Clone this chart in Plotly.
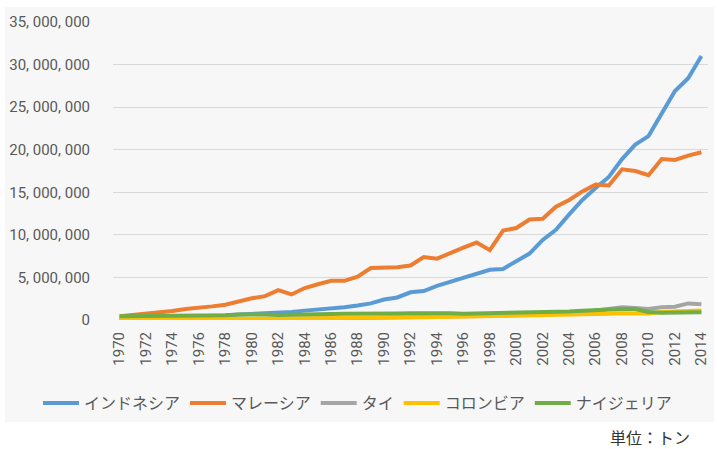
import plotly.graph_objects as go

years = list(range(1970, 2015))

indonesia = [0.22, 0.25, 0.27, 0.29, 0.35, 0.40, 0.43, 0.50, 0.53, 0.64,
             0.70, 0.75, 0.85, 0.95, 1.10, 1.20, 1.35, 1.50, 1.70, 1.95,
             2.40, 2.65, 3.25, 3.40, 4.00, 4.50, 4.90, 5.40, 5.90, 6.00,
             6.90, 7.80, 9.40, 10.60, 12.40, 14.10, 15.50, 16.80, 18.90, 20.60,
             21.60, 24.30, 26.90, 28.40, 31.00]
malaysia = [0.45, 0.60, 0.70, 0.85, 1.05, 1.30, 1.40, 1.60, 1.80, 2.20,
            2.55, 2.80, 3.50, 3.00, 3.75, 4.20, 4.60, 4.60, 5.10, 6.10,
            6.15, 6.20, 6.40, 7.40, 7.20, 7.90, 8.50, 9.10, 8.20, 10.50,
            10.80, 11.80, 11.90, 13.30, 14.10, 15.10, 15.90, 15.80, 17.70, 17.50,
            17.00, 18.90, 18.80, 19.30, 19.70]
thailand = [0.01, 0.01, 0.01, 0.02, 0.02, 0.03, 0.03, 0.04, 0.04, 0.05,
            0.05, 0.07, 0.09, 0.11, 0.13, 0.15, 0.17, 0.19, 0.21, 0.23,
            0.25, 0.28, 0.30, 0.33, 0.36, 0.40, 0.43, 0.46, 0.48, 0.50,
            0.55, 0.62, 0.65, 0.70, 0.80, 0.90, 1.10, 1.20, 1.50, 1.40,
            1.30, 1.50, 1.55, 1.95, 1.85]
colombia = [0.03, 0.04, 0.04, 0.05, 0.05, 0.06, 0.06, 0.07, 0.07, 0.07,
            0.08, 0.09, 0.10, 0.11, 0.12, 0.13, 0.15, 0.17, 0.19, 0.21,
            0.25, 0.28, 0.30, 0.32, 0.34, 0.37, 0.39, 0.41, 0.42, 0.47,
            0.52, 0.55, 0.53, 0.53, 0.63, 0.66, 0.72, 0.73, 0.80, 0.82,
            0.75, 0.95, 0.97, 1.04, 1.11]
nigeria = [0.45, 0.45, 0.45, 0.45, 0.48, 0.50, 0.50, 0.52, 0.55, 0.65,
           0.68, 0.65, 0.60, 0.60, 0.60, 0.65, 0.70, 0.72, 0.70, 0.70,
           0.72, 0.75, 0.78, 0.80, 0.80, 0.80, 0.72, 0.75, 0.78, 0.80,
           0.85, 0.85, 0.90, 0.95, 1.00, 1.10, 1.20, 1.25, 1.30, 1.30,
           0.95, 0.85, 0.85, 0.90, 0.90]

series_names = ["インドネシア", "マレーシア", "タイ", "コロンビア", "ナイジェリア"]
series_values = [indonesia, malaysia, thailand, colombia, nigeria]
series_colors = ["#5B9BD5", "#ED7D31", "#A5A5A5", "#FFC000", "#70AD47"]

y_tick_vals = [0, 5e6, 10e6, 15e6, 20e6, 25e6, 30e6, 35e6]
y_tick_text = ["0", "5, 000, 000", "10, 000, 000", "15, 000, 000", "20, 000, 000",
               "25, 000, 000", "30, 000, 000", "35, 000, 000"]
x_tick_vals = list(range(1970, 2015, 2))
x_tick_text = [str(y) for y in x_tick_vals]

unit_label = "単位：トン"

fig = go.Figure()
for name, vals, col in zip(series_names, series_values, series_colors):
    fig.add_trace(go.Scatter(
        x=years, y=[v * 1e6 for v in vals], name=name, mode="lines",
        line=dict(color=col, width=4), hoverinfo="skip"))

W, H = 717, 449
L, R, T, B = 113, 9, 22, 129
pw, ph = W - L - R, H - T - B

def px_x(p):
    return (p - L) / pw

def px_y(p):
    return (H - B - p) / ph

fig.add_shape(type="rect", xref="paper", yref="paper",
              x0=px_x(5), x1=px_x(714), y0=px_y(422), y1=px_y(7),
              fillcolor="#F7F7F7", line=dict(width=0), layer="below")

fig.add_annotation(text=unit_label, xref="paper", yref="paper",
                   x=px_x(692), y=px_y(437), xanchor="right", yanchor="middle",
                   showarrow=False,
                   font=dict(family="Noto Sans CJK JP", size=16, color="#333333"))

fig.update_layout(
    width=W, height=H,
    margin=dict(l=L, r=R, t=T, b=B, pad=0, autoexpand=False),
    paper_bgcolor="white",
    plot_bgcolor="rgba(0,0,0,0)",
    showlegend=True,
    legend=dict(orientation="h", x=px_x(38), xanchor="left",
                y=px_y(403), yanchor="middle",
                font=dict(family="Noto Sans CJK JP", size=16, color="#595959"),
                bgcolor="rgba(0,0,0,0)", itemwidth=36, tracegroupgap=0),
    xaxis=dict(range=[1969.5, 2014.5], tickvals=x_tick_vals, ticktext=x_tick_text,
               tickangle=-90, showgrid=False, zeroline=False, showline=False,
               ticks="", ticklabelstandoff=8,
               tickfont=dict(family="Roboto", size=15, color="#595959")),
    yaxis=dict(range=[0, 35e6], tickvals=y_tick_vals, ticktext=y_tick_text,
               showgrid=True, gridcolor="#D9D9D9", gridwidth=1,
               zeroline=False, showline=False, ticks="", ticklabelstandoff=22,
               tickfont=dict(family="Roboto", size=15, color="#595959")),
)

fig.write_html("out.html")
